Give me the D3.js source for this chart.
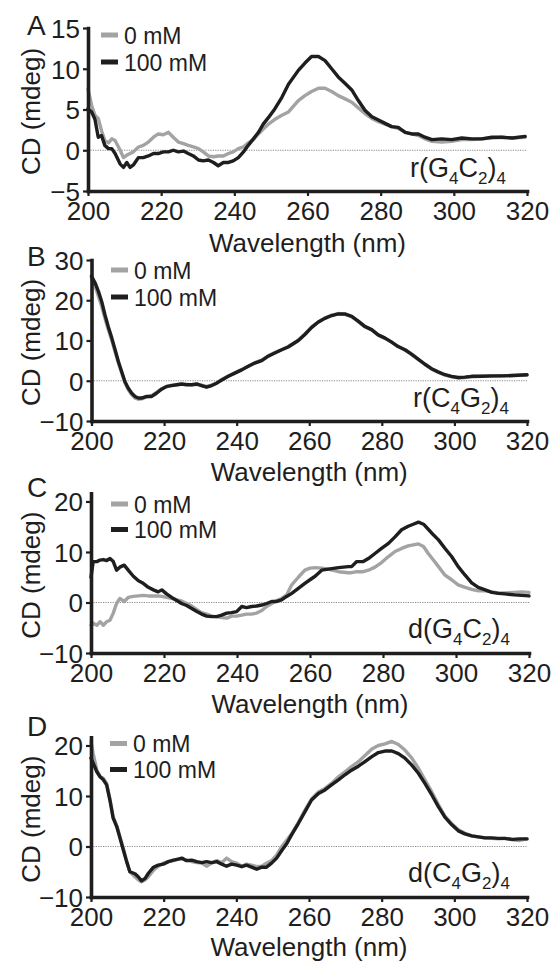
<!DOCTYPE html>
<html><head><meta charset="utf-8">
<script src="https://cdn.jsdelivr.net/npm/d3@7"></script>
<style>
body{margin:0;background:#fff}
svg{display:block}
text{font-family:"Liberation Sans",Arial,Helvetica,sans-serif;fill:#1e1e1e}
</style>
</head><body>
<svg id="chart" width="555" height="961"></svg>
<script>
// ---------- data ----------
const seriesNames = ["0 mM", "100 mM"];
const panelLetters = ["A", "B", "C", "D"];
const xTicks = [200, 220, 240, 260, 280, 300, 320];
const yTicksA = [-5, 0, 5, 10, 15];
const yTicksB = [-10, 0, 10, 20, 30];
const yTicksC = [-10, 0, 10, 20];
const yTicksD = [-10, 0, 10, 20];
const xTitle = "Wavelength (nm)";
const yTitle = "CD (mdeg)";
// compound names as [text, isSubscript]
const nameA = [["r(G",0],["4",1],["C",0],["2",1],[")",0],["4",1]];
const nameB = [["r(C",0],["4",1],["G",0],["2",1],[")",0],["4",1]];
const nameC = [["d(G",0],["4",1],["C",0],["2",1],[")",0],["4",1]];
const nameD = [["d(C",0],["4",1],["G",0],["2",1],[")",0],["4",1]];

// Panel A: r(G4C2)4
const wlA = [200,201,201.9,202.8,203.7,204.6,205.6,206.5,207.4,208.8,209.7,210.6,211.5,212.4,213.8,215.1,216.5,217.9,219.2,220.6,222,223.3,224.7,226.1,227.4,228.8,230.2,231.5,232.9,234.3,235.6,237,238.4,239.7,241.1,242.5,243.8,245.2,246.6,247.9,249.3,251.1,253,254.8,257.5,259.3,261.1,263,264.8,266.6,268.4,270.3,272.1,273.9,275.7,277.6,279.4,281.2,283,284.8,286.7,288.5,290.3,292.1,294,296.7,299.4,302.2,304.9,307.6,310.4,313.1,316,319.5];
const a0 = [7.5,5.5,4.3,3.9,2.4,1.2,0.9,1.4,1.2,0.0,-0.9,-0.6,-0.4,-0.2,0.4,0.6,1.0,1.6,2.0,1.9,2.2,1.6,1.0,0.8,0.6,0.4,0.2,-0.2,-0.7,-0.8,-0.7,-0.7,-0.4,-0.2,0.2,0.4,0.9,1.3,2.0,2.6,3.2,3.8,4.3,4.7,6.1,6.7,7.2,7.6,7.6,7.2,6.7,6.3,5.9,5.2,4.5,3.9,3.5,3.2,2.9,2.7,2.2,2.0,1.8,1.4,1.1,1.0,1.1,1.3,1.3,1.4,1.5,1.6,1.5,1.6];
const a100 = [5.1,4.7,3.8,1.6,1.8,0.6,0.2,0.2,-0.4,-1.7,-2.1,-1.5,-2.1,-1.8,-0.9,-0.9,-0.7,-0.4,-0.4,-0.2,-0.2,0,-0.2,-0.1,-0.4,-0.7,-1.2,-1.3,-1.2,-1.5,-1.9,-1.5,-1.5,-1.3,-0.9,-0.2,0.6,1.4,2.2,3.2,4.0,5.1,6.5,8.1,9.8,10.7,11.5,11.5,11.0,10.0,9.0,8.2,7.4,6.1,4.9,4.1,3.7,3.3,2.9,2.8,2.2,2.0,2.0,1.6,1.3,1.4,1.3,1.5,1.4,1.4,1.6,1.6,1.5,1.7];

// Panel B: r(C4G2)4
const wlB = [200,201,201.9,202.8,203.7,204.6,205.6,206.5,207.4,208.3,209.2,210.1,211.1,212,212.9,213.8,215.2,216.6,217.9,219.3,220.7,222.1,223.5,224.8,226.2,227.6,229,230.3,231.7,233.1,234.5,235.9,237.7,239.5,241.4,243.2,245,246.9,248.7,250.5,252.4,254.2,257,258.8,260.6,262.5,264.3,266.2,268,269.8,271.7,273.5,275.3,277.2,279,280.9,282.7,284.5,286.4,288.2,290,291.9,293.7,295.5,297.4,299.2,301,302.9,304.7,307.5,310.2,313,316,320];
const b0 = [25.5,23.5,21.0,18.5,15.5,12.8,10.0,7.2,4.5,2.0,-0.5,-2.2,-3.5,-4.3,-4.6,-4.5,-4.0,-3.7,-2.9,-2.0,-1.5,-1.1,-1.0,-0.9,-0.9,-1.0,-0.9,-1.1,-1.4,-1.1,-0.5,0.3,1.2,2.0,2.8,3.6,4.5,5.1,6.2,7.0,7.7,8.5,10.1,11.6,13.3,14.6,15.6,16.3,16.7,16.5,15.9,14.7,13.4,12.6,11.3,10.5,9.6,8.5,7.6,6.5,5.3,4.0,2.9,2.1,1.4,1.0,0.7,0.8,1.0,1.1,1.1,1.2,1.3,1.4];
const b100 = [26.0,24.3,22.2,19.7,16.4,13.5,10.6,7.7,4.8,2.3,-0.2,-1.8,-3.1,-3.9,-4.3,-4.3,-3.9,-3.9,-3.1,-2.1,-1.4,-1.2,-1.0,-0.8,-1.0,-1.0,-0.8,-1.2,-1.6,-1.2,-0.6,0.2,1.1,1.9,2.7,3.6,4.4,5.0,6.1,6.9,7.7,8.4,10.0,11.5,13.2,14.6,15.5,16.2,16.6,16.6,16.0,14.8,13.5,12.7,11.4,10.6,9.6,8.5,7.7,6.6,5.4,4.1,3.0,2.2,1.5,1.1,0.8,0.9,1.1,1.1,1.2,1.2,1.3,1.5];

// Panel C: d(G4C2)4
const wlC = [200,200.6,201.6,202.5,203.4,204.3,205.2,206.1,207,207.9,209.1,210.2,211.6,213,214.3,215.7,217.1,218.4,219.4,220.7,222.1,223.5,224.8,226.2,227.6,229,230.3,231.7,233.1,234.4,235.8,237.2,238.5,239.9,241.3,242.6,244,245.4,246.8,248.1,249.5,250.9,252.2,253.6,255,256.8,258.6,260,261.4,263.2,265,267.8,270.5,271.4,272.8,274.6,276,277.8,279.6,281.5,283.3,285.1,286.9,288.3,289.7,291.1,292.4,293.8,295.2,297,298.8,300.6,302.5,304.3,306.1,308,309.8,311.6,313.4,316,318,320];
const c0 = [-4.5,-4.1,-4.5,-3.8,-4.5,-3.8,-3.5,-2.1,-0.2,0.8,0.2,1.0,1.2,1.3,1.4,1.3,1.3,1.3,1.2,1.0,0.8,0.5,0.3,-0.2,-0.7,-1.4,-2.0,-2.3,-2.7,-2.8,-3.0,-3.1,-2.7,-2.7,-2.5,-2.3,-2.3,-2.1,-1.6,-0.8,-0.2,0.4,0.8,1.5,3.5,5.0,6.4,6.8,6.9,6.8,6.6,6.1,5.9,5.9,6.1,6.1,6.4,7.0,7.9,9.1,10.1,10.7,11.2,11.4,11.6,11.1,9.7,8.4,7.1,5.4,4.5,3.5,3.0,2.6,2.3,2.3,2.1,1.9,1.9,2.0,2.1,2.0];
const c100 = [5.0,8.1,8.1,8.4,8.5,8.3,8.7,8.1,6.4,7.0,7.4,6.4,5.2,4.3,3.8,3.0,2.5,2.1,2.5,1.7,1.0,0.4,-0.2,-0.6,-1.2,-1.8,-2.3,-2.7,-2.8,-2.8,-2.5,-2.1,-2.0,-1.8,-0.8,-1.0,-0.8,-0.7,-0.5,-0.2,0.2,0.2,0.5,1.2,1.8,2.8,3.8,4.5,5.2,6.4,6.6,6.9,7.1,7.1,8.1,8.1,8.7,9.7,10.7,11.7,13.0,14.4,15.1,15.5,15.9,15.5,14.5,13.4,12.4,10.7,9.1,7.1,5.4,3.9,3.0,2.5,2.0,1.8,1.7,1.5,1.4,1.3];

// Panel D: d(C4G2)4
const wlD = [200,200.6,201.6,202.5,203.4,204.3,205.2,206.1,207.1,208,208.9,209.8,210.7,212.1,213,213.9,214.9,215.8,217.2,218.5,219.9,221.3,222.7,224,225,226.3,227.7,229.1,230.5,231.8,233.2,234.6,236,237.3,238.7,240.1,241.5,242.8,244.2,245.6,247,248.3,249.7,251.1,252.5,253.9,255.2,257.1,258.9,260.7,262.6,264.4,266.2,268.1,269.9,271.7,273.6,275.4,277.3,279.1,280.9,282.8,284.6,286.4,288.3,290.1,291.9,293.8,295.6,297.4,299.3,301.1,302.9,304.8,306.6,308.4,310.3,312.1,313.9,316,318,320];
const d0 = [20.8,18.4,15.1,13.8,13.5,12.5,9.5,5.9,4.1,1.9,-0.4,-2.8,-5.0,-6.0,-6.6,-7.0,-6.6,-6.0,-4.7,-3.9,-3.3,-3.0,-2.8,-2.5,-2.5,-2.7,-3.0,-3.2,-3.3,-3.9,-3.3,-2.8,-3.2,-2.3,-3.0,-3.3,-3.9,-3.5,-3.7,-4.0,-3.9,-3.3,-2.8,-1.7,0.0,1.3,2.5,4.8,7.2,9.4,10.8,11.5,12.5,13.8,14.8,15.8,16.8,18.0,19.3,20.0,20.3,20.8,20.2,19.1,17.5,15.5,13.2,10.8,8.3,6.0,4.5,3.3,2.6,2.1,1.9,1.7,1.6,1.5,1.6,1.3,1.2,1.5];
const d100 = [17.5,16.5,14.8,13.8,13.2,12.2,9.2,5.6,3.9,1.6,-0.7,-3.0,-5.0,-5.4,-6.0,-6.8,-6.3,-5.3,-4.1,-3.7,-3.5,-3.0,-2.7,-2.5,-2.3,-2.8,-2.7,-3.0,-3.2,-3.0,-3.2,-3.0,-3.5,-3.9,-3.5,-3.7,-4.0,-3.7,-4.1,-4.5,-4.1,-4.1,-3.3,-2.3,-0.8,0.6,2.3,4.6,6.9,9.2,10.5,11.2,12.2,13.2,14.2,15.1,15.9,16.8,17.8,18.6,18.9,18.9,18.4,17.5,16.1,14.5,12.5,10.2,7.9,5.8,4.3,3.1,2.5,2.1,1.9,1.7,1.7,1.6,1.6,1.4,1.5,1.5];

// ---------- layout (positions/styles kept separate from data) ----------
const INK = "#1e1e1e", GREY = "#a3a3a3";
const panels = [
  {letter: panelLetters[0], wl: wlA, s: [a0, a100], dom: [-5, 15],  ticks: yTicksA, name: nameA,
   x0: 88, x1: 527, yB: 191, yT: 28, letterY: 35, legX: 101, legY: [35, 62], legTx: 124, nameX: 410, nameY: 177, titleY: 252},
  {letter: panelLetters[1], wl: wlB, s: [b0, b100], dom: [-10, 30], ticks: yTicksB, name: nameB,
   x0: 91.5, x1: 527, yB: 421, yT: 260, letterY: 266, legX: 111, legY: [270, 297], legTx: 134, nameX: 413, nameY: 407, titleY: 481},
  {letter: panelLetters[2], wl: wlC, s: [c0, c100], dom: [-10, 21.6], ticks: yTicksC, name: nameC,
   x0: 91, x1: 529, yB: 653, yT: 493.4, letterY: 497, legX: 111, legY: [504, 529.5], legTx: 134, nameX: 408, nameY: 638, titleY: 713},
  {letter: panelLetters[3], wl: wlD, s: [d0, d100], dom: [-10, 21.6], ticks: yTicksD, name: nameD,
   x0: 91, x1: 527, yB: 897, yT: 737.4, letterY: 736, legX: 110, legY: [743.5, 769.5], legTx: 133, nameX: 408, nameY: 882, titleY: 955.5}
];
const colors = [GREY, INK];

const svg = d3.select("#chart");

panels.forEach(p => {
  const x = d3.scaleLinear().domain([200, 320]).range([p.x0, p.x1]);
  const y = d3.scaleLinear().domain(p.dom).range([p.yB, p.yT]);
  const g = svg.append("g");

  // zero reference line (dotted)
  g.append("line")
    .attr("x1", x(200)).attr("x2", x(320))
    .attr("y1", y(0)).attr("y2", y(0))
    .attr("stroke", "#8a8a8a").attr("stroke-width", 1)
    .attr("stroke-dasharray", "1.2,1.2");

  // series lines (0 mM first, 100 mM on top)
  const line = d3.line().x(d => x(d[0])).y(d => y(d[1]));
  p.s.forEach((vals, i) => {
    const pts = p.wl.map((w, k) => [w, vals[k]]);
    g.append("path").datum(pts)
      .attr("d", line)
      .attr("fill", "none")
      .attr("stroke", colors[i])
      .attr("stroke-width", 3.4)
      .attr("stroke-linejoin", "round")
      .attr("stroke-linecap", "round");
  });

  // axes
  const xa = g.append("g").attr("transform", `translate(0,${p.yB})`)
    .call(d3.axisBottom(x).tickValues(xTicks).tickSize(5).tickSizeOuter(0).tickPadding(6).tickFormat(d3.format("d")));
  const ya = g.append("g").attr("transform", `translate(${p.x0},0)`)
    .call(d3.axisLeft(y).tickValues(p.ticks).tickSize(5).tickSizeOuter(0).tickPadding(3).tickFormat(d3.format("d")));
  [xa, ya].forEach(a => {
    a.select(".domain").attr("stroke", INK).attr("stroke-width", 3.6).attr("stroke-linecap", "square");
    a.selectAll(".tick line").attr("stroke", INK).attr("stroke-width", 2.2);
    a.selectAll(".tick text").attr("font-size", 26).attr("font-family", '"Liberation Sans", Arial, sans-serif').attr("fill", INK);
  });
  ya.selectAll(".tick text").attr("dy", "0.36em");

  // axis titles
  g.append("text")
    .attr("x", (p.x0 + p.x1) / 2).attr("y", p.titleY)
    .attr("text-anchor", "middle").attr("font-size", 26)
    .text(xTitle);
  g.append("text")
    .attr("transform", `translate(40,${(p.yT + p.yB) / 2 + 2}) rotate(-90)`)
    .attr("text-anchor", "middle").attr("font-size", 26)
    .text(yTitle);

  // panel letter
  g.append("text").attr("x", 27).attr("y", p.letterY)
    .attr("font-size", 28).text(p.letter);

  // legend
  seriesNames.forEach((nm, i) => {
    g.append("line")
      .attr("x1", p.legX).attr("x2", p.legX + 17)
      .attr("y1", p.legY[i]).attr("y2", p.legY[i])
      .attr("stroke", colors[i]).attr("stroke-width", 5);
    g.append("text").attr("x", p.legTx).attr("y", p.legY[i] + 8.5)
      .attr("font-size", 23).text(nm);
  });

  // compound label with subscripts
  const t = g.append("text").attr("x", p.nameX).attr("y", p.nameY).attr("font-size", 27);
  let shifted = false;
  p.name.forEach(([s, sub]) => {
    const ts = t.append("tspan").text(s);
    if (sub && !shifted) { ts.attr("font-size", 17).attr("dy", 7); shifted = true; }
    else if (!sub && shifted) { ts.attr("dy", -7); shifted = false; }
    else if (sub) { ts.attr("font-size", 17); }
  });
});
</script>
</body></html>
